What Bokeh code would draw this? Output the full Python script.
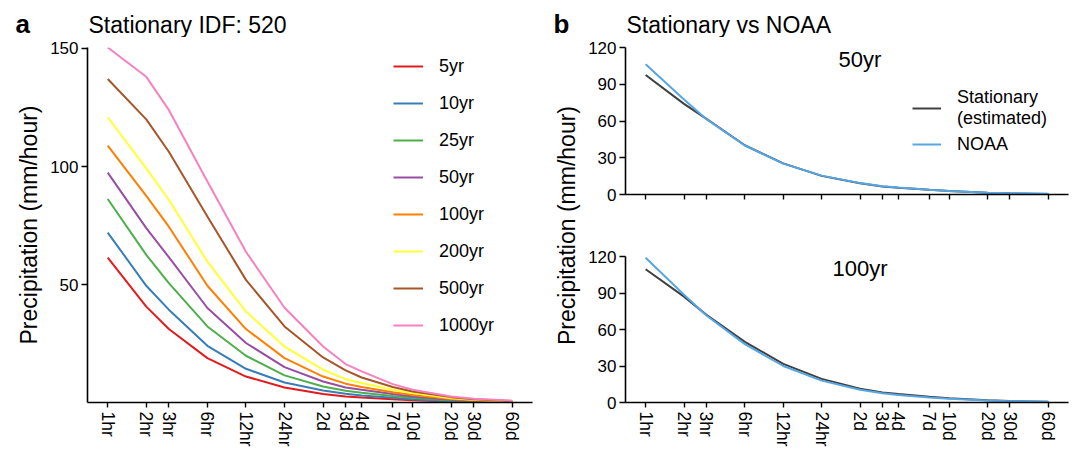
import math
from bokeh.plotting import figure
from bokeh.models import (Label, Legend, LegendItem, FixedTicker, Range1d,
                          CustomJSTickFormatter)
from bokeh.layouts import row, column
from bokeh.embed import file_html
from bokeh.resources import INLINE

# ---------------- data ----------------
durations = [1, 2, 3, 6, 12, 24, 48, 72, 96, 168, 240, 480, 720, 1440]  # hours
duration_labels = ["1hr", "2hr", "3hr", "6hr", "12hr", "24hr", "2d", "3d",
                   "4d", "7d", "10d", "20d", "30d", "60d"]

return_periods = ["5yr", "10yr", "25yr", "50yr", "100yr", "200yr", "500yr", "1000yr"]
idf_5yr = [61.5, 40.8, 31.3, 19.0, 11.2, 6.6, 3.8, 2.8, 2.3, 1.6, 1.2, 0.6, 0.4, 0.23]
idf_10yr = [72.1, 49.6, 39.5, 24.2, 14.5, 8.7, 5.3, 3.9, 3.2, 2.2, 1.6, 0.8, 0.55, 0.3]
idf_25yr = [86.3, 62.7, 50.7, 32.4, 20.0, 11.7, 7.0, 5.2, 4.4, 3.0, 2.2, 1.1, 0.75, 0.4]
idf_50yr = [97.5, 74.0, 61.7, 40.2, 25.4, 15.2, 9.1, 6.6, 5.6, 3.8, 2.8, 1.4, 0.95, 0.5]
idf_100yr = [108.9, 87.6, 74.6, 49.6, 31.3, 19.0, 11.2, 8.2, 6.8, 4.6, 3.4, 1.7, 1.15, 0.6]
idf_200yr = [120.9, 99.3, 86.0, 59.8, 38.7, 23.9, 14.1, 10.1, 8.5, 5.6, 4.2, 2.0, 1.35, 0.7]
idf_500yr = [137.1, 120.0, 106.3, 78.9, 52.1, 32.4, 19.3, 13.8, 10.8, 6.8, 4.9, 2.5, 1.6, 0.85]
idf_1000yr = [150.4, 138.0, 124.0, 93.7, 64.0, 40.3, 23.9, 16.5, 13.4, 8.0, 5.6, 2.8, 1.8, 1.0]
idf_series = [idf_5yr, idf_10yr, idf_25yr, idf_50yr, idf_100yr, idf_200yr, idf_500yr, idf_1000yr]
idf_colors = ["#E41A1C", "#377EB8", "#4DAF4A", "#984EA3", "#FF7F00", "#FFFF33", "#A65628", "#F781BF"]
left_yticks = [50, 100, 150]

stationary_50yr = [97.5, 74.0, 61.7, 40.2, 25.4, 15.2, 9.1, 6.6, 5.6, 3.8, 2.8, 1.4, 0.95, 0.5]
noaa_50yr = [106.3, 77.5, 61.5, 40.0, 25.2, 15.4, 9.3, 6.8, 5.7, 3.9, 2.9, 1.5, 1.0, 0.55]
stationary_100yr = [109.5, 87.0, 72.0, 49.8, 31.8, 19.4, 11.4, 8.3, 6.9, 4.7, 3.5, 1.75, 1.2, 0.6]
noaa_100yr = [119.0, 88.5, 71.5, 48.0, 30.0, 18.0, 10.5, 7.6, 6.2, 4.2, 3.1, 1.6, 1.1, 0.55]
right_yticks = [0, 30, 60, 90, 120]
right_yrange = (0, 120)
cmp_labels = ["Stationary\n(estimated)", "NOAA"]
cmp_colors = ["#3F3F3F", "#56A6E4"]

FONT = "Liberation Sans"

# log-x range with 5% expansion
lmin, lmax = math.log10(min(durations)), math.log10(max(durations))
span = lmax - lmin
x_lo, x_hi = 10 ** (lmin - 0.05 * span), 10 ** (lmax + 0.05 * span)


def style_axes(p, show_xlabels=True):
    xa = p.xaxis[0]
    ya = p.yaxis[0]
    xa.ticker = FixedTicker(ticks=durations, minor_ticks=[])
    if show_xlabels:
        xa.major_label_overrides = {d: l for d, l in zip(durations, duration_labels)}
        xa.major_label_orientation = "vertical"
    else:
        xa.formatter = CustomJSTickFormatter(code="return ''")
    for ax in (xa, ya):
        ax.axis_line_width = 1.6
        ax.axis_line_color = "black"
        ax.major_tick_line_width = 1.4
        ax.major_tick_line_color = "black"
        ax.major_tick_in = 0
        ax.major_tick_out = 6
        ax.minor_tick_line_color = None
        ax.major_label_text_font = FONT
        ax.major_label_text_color = "black"
    xa.major_tick_out = 5
    xa.major_label_text_font_size = "17.5px"
    xa.major_label_standoff = 4
    ya.major_label_text_font_size = "17px"
    ya.major_label_standoff = 3
    p.grid.visible = False
    p.outline_line_color = None


def blank_fig(width, height, **kw):
    f = figure(width=width, height=height, x_range=Range1d(0, 1), y_range=Range1d(0, 1),
               output_backend="svg", toolbar_location=None,
               x_axis_location=None, y_axis_location=None, **kw)
    f.grid.visible = False
    f.outline_line_color = None
    return f


# ---------------- header with panel letters and titles ----------------
header = blank_fig(1075, 37, min_border=0)
for txt, xs, ys, bold, size in [("a", 15, 14, True, "26px"),
                                ("Stationary IDF: 520", 88, 13, False, "23px"),
                                ("b", 553, 14, True, "26px"),
                                ("Stationary vs NOAA", 626, 13, False, "23px")]:
    header.add_layout(Label(x=xs, y=ys, x_units="screen", y_units="screen", text=txt,
                            text_font=FONT, text_font_size=size,
                            text_font_style="bold" if bold else "normal",
                            text_baseline="alphabetic", text_align="left", text_color="black"))

# ---------------- panel a ----------------
ylo_a, yhi_a = min(min(s) for s in idf_series), max(max(s) for s in idf_series)
p1 = figure(width=548, height=412, x_axis_type="log",
            x_range=Range1d(x_lo, x_hi), y_range=Range1d(ylo_a, yhi_a),
            output_backend="svg", toolbar_location=None,
            min_border_left=87, min_border_right=16, min_border_top=10, min_border_bottom=46)
style_axes(p1)
p1.yaxis[0].ticker = FixedTicker(ticks=left_yticks, minor_ticks=[])
p1.yaxis[0].axis_label = "Precipitation (mm/hour)"
p1.yaxis[0].axis_label_text_font = FONT
p1.yaxis[0].axis_label_text_font_size = "23px"
p1.yaxis[0].axis_label_text_font_style = "normal"
p1.yaxis[0].axis_label_text_color = "black"
p1.yaxis[0].axis_label_standoff = 5

items = []
for name, vals, col in zip(return_periods, idf_series, idf_colors):
    r = p1.line(durations, vals, line_color=col, line_width=2)
    items.append(LegendItem(label=name, renderers=[r]))
leg1 = Legend(items=items, location=(306, 66), border_line_color=None,
              background_fill_alpha=0, padding=0, margin=0,
              glyph_width=30, glyph_height=22, label_height=22,
              label_standoff=16, spacing=15,
              label_text_font=FONT, label_text_font_size="18px", label_text_color="black")
p1.add_layout(leg1)

# ---------------- label strip for panel b ----------------
p_lab = blank_fig(36, 412, min_border_left=0, min_border_right=0,
                  min_border_top=10, min_border_bottom=46)
p_lab.add_layout(Label(x=18, y=177, x_units="screen", y_units="screen",
                       text="Precipitation (mm/hour)", angle=90, angle_units="deg",
                       text_font=FONT, text_font_size="23px",
                       text_baseline="middle", text_align="center", text_color="black"))

# ---------------- panel b (top: 50yr) ----------------
p2 = figure(width=491, height=188, x_axis_type="log",
            x_range=Range1d(x_lo, x_hi), y_range=Range1d(*right_yrange),
            output_backend="svg", toolbar_location=None,
            min_border_left=41, min_border_right=7, min_border_top=10, min_border_bottom=31)
style_axes(p2, show_xlabels=False)
p2.yaxis[0].ticker = FixedTicker(ticks=right_yticks, minor_ticks=[])
r_s = p2.line(durations, stationary_50yr, line_color=cmp_colors[0], line_width=2)
r_n = p2.line(durations, noaa_50yr, line_color=cmp_colors[1], line_width=2)
leg2 = Legend(items=[LegendItem(label=cmp_labels[0], renderers=[r_s]),
                     LegendItem(label=cmp_labels[1], renderers=[r_n])],
              location=(287, 39), border_line_color=None,
              background_fill_alpha=0, padding=0, margin=0,
              glyph_width=29, glyph_height=22, label_height=22,
              label_standoff=16, spacing=4,
              label_text_font=FONT, label_text_font_size="18px",
              label_text_line_height=0.85, label_text_color="black")
p2.add_layout(leg2)
p2.add_layout(Label(x=48, y=110, text="50yr", text_font=FONT, text_font_size="22px",
                    text_baseline="middle", text_align="center", text_color="black"))

# ---------------- panel b (bottom: 100yr) ----------------
p3 = figure(width=491, height=224, x_axis_type="log",
            x_range=Range1d(x_lo, x_hi), y_range=Range1d(*right_yrange),
            output_backend="svg", toolbar_location=None,
            min_border_left=41, min_border_right=7, min_border_top=31, min_border_bottom=47)
style_axes(p3, show_xlabels=True)
p3.yaxis[0].ticker = FixedTicker(ticks=right_yticks, minor_ticks=[])
p3.line(durations, stationary_100yr, line_color=cmp_colors[0], line_width=2)
p3.line(durations, noaa_100yr, line_color=cmp_colors[1], line_width=2)
p3.add_layout(Label(x=48, y=110, text="100yr", text_font=FONT, text_font_size="22px",
                    text_baseline="middle", text_align="center", text_color="black"))

layout = column(header, row(p1, p_lab, column(p2, p3)))
open("out.html", "w").write(file_html(layout, INLINE))
